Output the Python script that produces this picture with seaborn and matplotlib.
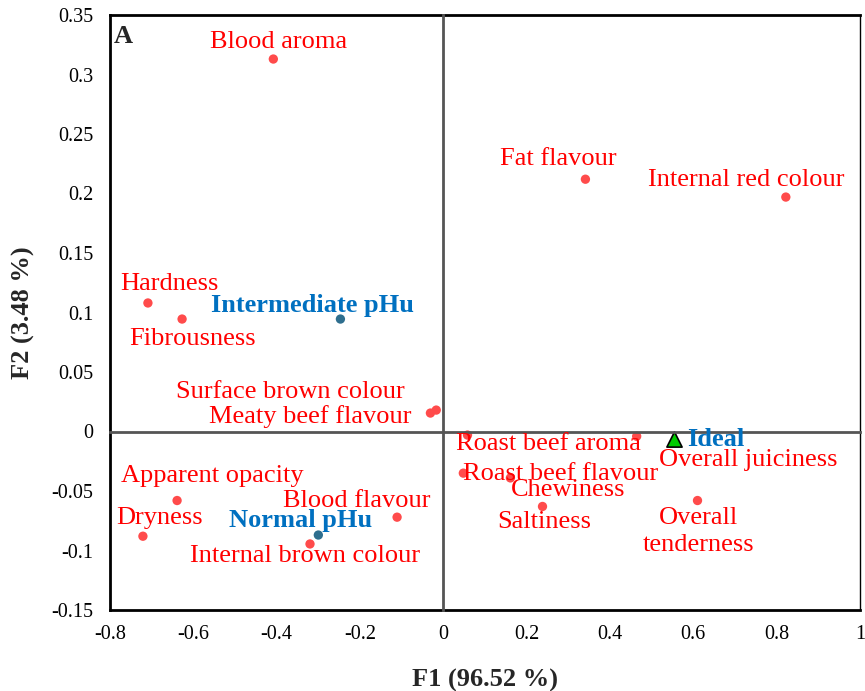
import matplotlib
matplotlib.use("Agg")
import matplotlib.pyplot as plt
import seaborn as sns
import pandas as pd
from matplotlib.ticker import FuncFormatter

# ---- data ----
attr_names = ["Blood aroma", "Fat flavour", "Internal red colour", "Hardness", "Fibrousness",
              "Surface brown colour", "Meaty beef flavour", "Roast beef aroma", "Overall juiciness",
              "Roast beef flavour", "Chewiness", "Saltiness", "Overall\ntenderness",
              "Apparent opacity", "Dryness", "Blood flavour", "Internal brown colour"]
attr_f1 = [-0.408, 0.341, 0.822, -0.709, -0.627, -0.017, -0.031, 0.058, 0.464,
           0.048, 0.161, 0.238, 0.610, -0.639, -0.721, -0.111, -0.320]
attr_f2 = [0.313, 0.212, 0.197, 0.108, 0.0945, 0.018, 0.0155, -0.003, -0.004,
           -0.035, -0.039, -0.063, -0.058, -0.058, -0.088, -0.072, -0.0945]

prod_names = ["Intermediate pHu", "Normal pHu"]
prod_f1 = [-0.247, -0.300]
prod_f2 = [0.0945, -0.087]

ideal_name = ["Ideal"]
ideal_f1 = [0.553]
ideal_f2 = [-0.006]

x_ticks = [-0.8, -0.6, -0.4, -0.2, 0, 0.2, 0.4, 0.6, 0.8, 1]
y_ticks = [-0.15, -0.1, -0.05, 0, 0.05, 0.1, 0.15, 0.2, 0.25, 0.3, 0.35]

# label offsets in pixels (style)
attr_off = [(5, 17), (-27, 20), (-40, 17), (21, 19), (10, -20), (-146, 18), (-120, -3),
            (81, -9), (112, -24), (97, -1), (58, -12), (2, -16), (1, -31), (35, 25),
            (17, 18), (-40, 16), (-5, -12)]
prod_off = [(-28, 14), (-18, 15)]

sns.set_style("white")
plt.rcParams["font.family"] = ["Liberation Serif", "DejaVu Serif"]
plt.rcParams["axes.unicode_minus"] = False

fig = plt.figure(figsize=(8.65, 6.91), dpi=100)
pos = [110 / 865, 81 / 691, 750 / 865, 595 / 691]
ax = fig.add_axes(pos)

attr_df = pd.DataFrame({"F1": attr_f1, "F2": attr_f2, "name": attr_names})
prod_df = pd.DataFrame({"F1": prod_f1, "F2": prod_f2, "name": prod_names})
ideal_df = pd.DataFrame({"F1": ideal_f1, "F2": ideal_f2, "name": ideal_name})

sns.scatterplot(data=attr_df, x="F1", y="F2", ax=ax, color="#FF4B4B", s=45,
                edgecolor="none", zorder=5)
sns.scatterplot(data=prod_df, x="F1", y="F2", ax=ax, color="#2E6E8E", s=45,
                edgecolor="none", zorder=5)
sns.scatterplot(data=ideal_df, x="F1", y="F2", ax=ax, color="#00CC00", s=120,
                marker="^", edgecolor="black", linewidth=1.2, zorder=6)

ax.set_xlim(-0.8, 1.0)
ax.set_ylim(-0.15, 0.35)
ax.set_xticks(x_ticks)
ax.set_yticks(y_ticks)
fmt = FuncFormatter(lambda v, p: ("%g" % round(v, 4)))
ax.xaxis.set_major_formatter(fmt)
ax.yaxis.set_major_formatter(fmt)
ax.tick_params(axis="y", length=0, labelsize=14.5, pad=12, colors="black")
ax.tick_params(axis="x", length=0, labelsize=14.5, pad=11, colors="black")
for sp in ax.spines.values():
    sp.set_color("black")
    sp.set_linewidth(2)
ax.spines["right"].set_linewidth(1)

ax.set_xlabel("F1 (96.52 %)", fontsize=19, fontweight="bold", labelpad=18)
ax.set_ylabel("F2 (3.48 %)", fontsize=19, fontweight="bold", labelpad=12)

# zero axes with ticks
ax2 = fig.add_axes(pos, sharex=ax, sharey=ax)
ax2.patch.set_alpha(0)
ax2.spines["left"].set_position(("data", 0))
ax2.spines["bottom"].set_position(("data", 0))
ax2.spines["top"].set_visible(False)
ax2.spines["right"].set_visible(False)
for k in ("left", "bottom"):
    ax2.spines[k].set_color("#555555")
    ax2.spines[k].set_linewidth(2)
ax2.tick_params(direction="inout", length=12, width=1.2, color="black",
                labelleft=False, labelbottom=False)
ax2.set_xlabel("")
ax2.set_ylabel("")

# labels
for n, x, y, off in zip(attr_names, attr_f1, attr_f2, attr_off):
    ax2.annotate(n, (x, y), xytext=off, textcoords="offset pixels", ha="center",
                 va="center", color="#FF0000", fontsize=19, linespacing=1.25, zorder=7)
for n, x, y, off in zip(prod_names, prod_f1, prod_f2, prod_off):
    ax2.annotate(n, (x, y), xytext=off, textcoords="offset pixels", ha="center",
                 va="center", color="#0070C0", fontsize=19, fontweight="bold", zorder=7)
ax2.annotate(ideal_name[0], (ideal_f1[0], ideal_f2[0]), xytext=(13, -1),
             textcoords="offset pixels", ha="left", va="center", color="#0070C0",
             fontsize=19, fontweight="bold", zorder=7)

ax2.text(0.005, 0.983, "A", transform=ax2.transAxes, ha="left", va="top",
         fontsize=19, fontweight="bold")

fig.savefig("out.png", dpi=100)
